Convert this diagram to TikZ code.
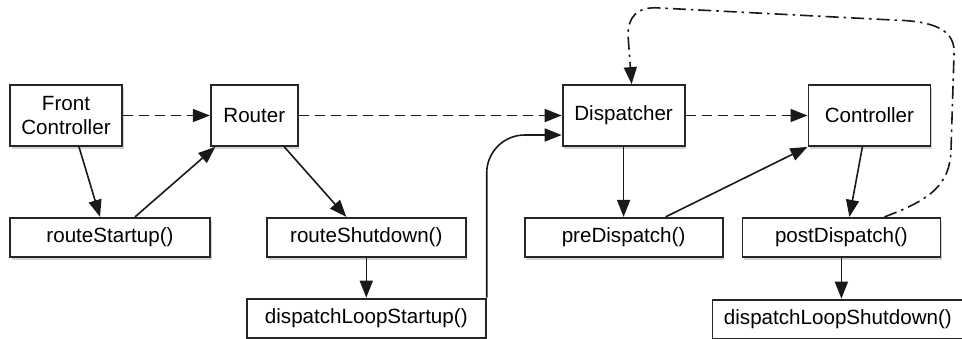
\documentclass[tikz,border=0pt]{standalone}
\usepackage{fontspec}
\setmainfont{Liberation Sans}
\usepackage{tikz}
\usetikzlibrary{arrows.meta,positioning,shadows}
\tikzset{
  cls_box/.style={rectangle,draw=black!85,fill=white,line width=1.8pt,align=center,
    font=\fontsize{20.6}{23.5}\selectfont,inner sep=0pt,minimum height=61pt,
    drop shadow={shadow xshift=1.5pt,shadow yshift=-3pt,opacity=0.35}},
  hook_box/.style={rectangle,draw=black!85,fill=white,line width=1.8pt,align=center,
    font=\fontsize{20.6}{23.5}\selectfont,inner sep=0pt,minimum height=39pt,
    drop shadow={shadow xshift=1.5pt,shadow yshift=-3pt,opacity=0.35}},
  arr/.style={-{Triangle[length=17pt,width=13pt]},line width=1.6pt,draw=black!90},
  arr_dash/.style={arr,dash pattern=on 10pt off 6pt},
  arr_loop/.style={arr,dash pattern=on 13pt off 5pt on 2.5pt off 5pt},
}
\begin{document}
\begin{tikzpicture}[x=1pt,y=1pt]
  \useasboundingbox (0,0) rectangle (962,-338);
  \node (fc)  [cls_box,minimum width=112pt] at (66,-115.5) {Front\\Controller};
  \node (rtr) [cls_box,minimum width=87pt,right=87pt of fc] {Router};
  \node (dsp) [cls_box,minimum width=122pt,right=263pt of rtr] {Dispatcher};
  \node (ctl) [cls_box,minimum width=122pt,right=122pt of dsp] {Controller};
  \node (rs)  [hook_box,minimum width=200pt,below right=70pt and 0pt of fc.south west] {routeStartup()};
  \node (rsd) [hook_box,minimum width=199pt,right=55pt of rs] {routeShutdown()};
  \node (dls) [hook_box,minimum width=239pt,below=40pt of rsd] {dispatchLoopStartup()};
  \node (pre) [hook_box,minimum width=198pt,below=70pt of dsp] {preDispatch()};
  \node (pst) [hook_box,minimum width=198pt,right=18pt of pre] {postDispatch()};
  \node (dlsd)[hook_box,minimum width=251pt,below=41pt of pst,xshift=-3.5pt] {dispatchLoopShutdown()};
  \draw[arr_dash](fc)--(rtr); \draw[arr_dash](rtr)--(dsp); \draw[arr_dash](dsp)--(ctl);
  \draw[arr]([xshift=13pt]fc.south)--([xshift=-10pt]rs.north);
  \draw[arr]([xshift=25pt]rs.north)--([xshift=-39pt]rtr.south);
  \draw[arr]([xshift=30pt]rtr.south)--([xshift=-20pt]rsd.north);
  \draw[arr](rsd)--(dls);
  \draw[arr,rounded corners=38pt](dls.north east)|-([yshift=-19.5pt]dsp.west);
  \draw[arr](dsp)--(pre);
  \draw[arr]([xshift=42pt]pre.north)--(ctl.south west);
  \draw[arr]([xshift=-7pt]ctl.south)--([xshift=8pt]pst.north);
  \draw[arr](pst.south)--(pst.south |- dlsd.north);
  \draw[arr_loop]([xshift=43pt]pst.north) .. controls (930,-200) and (950,-185) .. (951,-150)
    -- (954,-55) .. controls (956,-30) and (935,-21) .. (893,-20)
    -- (660,-8) .. controls (636,-6) and (628,-18) .. (628,-35)
    -- ([xshift=8pt]dsp.north);
\end{tikzpicture}
\end{document}
